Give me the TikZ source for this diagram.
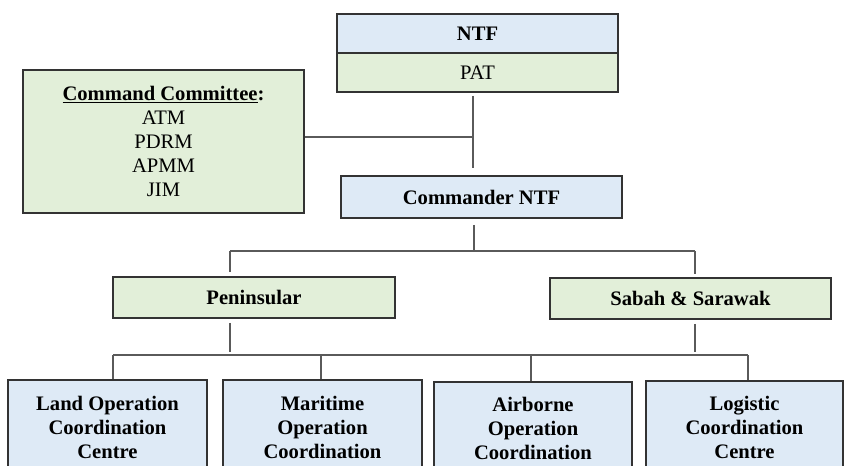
\documentclass[tikz,border=0pt]{standalone}
\usepackage{fontspec}
\setmainfont{LiberationSerif}[Extension=.ttf, UprightFont=*-Regular, BoldFont=*-Bold, ItalicFont=*-Italic, BoldItalicFont=*-BoldItalic]
\usetikzlibrary{calc}
\definecolor{boxblue}{HTML}{DEEAF6}
\definecolor{boxgreen}{HTML}{E2EFD9}
\definecolor{boxedge}{HTML}{333333}
\definecolor{linegrey}{HTML}{5A5A5A}
\tikzset{
  orgbox/.style={draw=boxedge, line width=1.6pt, inner sep=0pt, align=center,
    font=\fontsize{20.6}{24}\selectfont},
  bluebox/.style={orgbox, fill=boxblue},
  greenbox/.style={orgbox, fill=boxgreen},
  conn/.style={draw=linegrey, line width=1.1pt},
}
\begin{document}
\begin{tikzpicture}[x=1pt,y=-1pt]
\clip (0,0) rectangle (844,466);
\fill[white] (0,0) rectangle (844,466);

% top boxes
\node[bluebox, minimum width=281pt, minimum height=39pt] (ntf) at (477.5,33.5) {\textbf{NTF}};
\node[greenbox, minimum width=281pt, minimum height=39pt] (pat) at (477.5,72.5) {PAT};
\node[greenbox, minimum width=281pt, minimum height=143pt] (cc) at (163.5,141.5)
  {\textbf{\underline{Command Committee}:}\\ATM\\PDRM\\APMM\\JIM};
\node[bluebox, minimum width=281pt, minimum height=42pt] (cmdr) at (481.5,197) {\textbf{Commander NTF}};

% middle boxes
\node[greenbox, minimum width=282pt, minimum height=41pt] (pen) at (254,297.5) {\textbf{Peninsular}};
\node[greenbox, minimum width=281pt, minimum height=41pt] (sab) at (690.5,298.5) {\textbf{Sabah \& Sarawak}};

% bottom boxes
\node[bluebox, minimum width=199pt, minimum height=94pt] (land) at (107.5,427)
  {\textbf{Land Operation}\\\textbf{Coordination}\\\textbf{Centre}};
\node[bluebox, minimum width=199pt, minimum height=94pt] (mar) at (322.5,427)
  {\textbf{Maritime}\\\textbf{Operation}\\\textbf{Coordination}};
\node[bluebox, minimum width=198pt, minimum height=92pt] (air) at (533,428)
  {\textbf{Airborne}\\\textbf{Operation}\\\textbf{Coordination}};
\node[bluebox, minimum width=197pt, minimum height=93pt] (log) at (744.5,427.5)
  {\textbf{Logistic}\\\textbf{Coordination}\\\textbf{Centre}};

% junction coordinates
\coordinate (j1) at (473,137);
\coordinate (b1) at (474,251);
\coordinate (b1L) at (230,251);
\coordinate (b1R) at (695,251);
\coordinate (b2L) at (113,355);
\coordinate (b2M) at (321,355);
\coordinate (b2A) at (531,355);
\coordinate (b2R) at (748,355);
\coordinate (p2) at (230,355);
\coordinate (s2) at (695,355);

% connectors
\draw[conn, shorten <=3pt, shorten >=7pt] (pat.south -| j1) -- (cmdr.north -| j1);
\draw[conn] (cc.east |- j1) -- (j1);
\draw[conn, shorten <=6pt] (cmdr.south -| b1) -- (b1);
\draw[conn] (b1L) -- (b1R);
\draw[conn, shorten >=4pt] (b1L) -- (pen.north -| b1L);
\draw[conn, shorten >=3pt] (b1R) -- (sab.north -| b1R);
\draw[conn, shorten <=4pt, shorten >=3pt] (pen.south -| p2) -- (p2);
\draw[conn, shorten <=4pt, shorten >=3pt] (sab.south -| s2) -- (s2);
\draw[conn] (b2L) -- (b2R);
\draw[conn] (b2L) -- (land.north -| b2L);
\draw[conn] (b2M) -- (mar.north -| b2M);
\draw[conn] (b2A) -- (air.north -| b2A);
\draw[conn] (b2R) -- (log.north -| b2R);
\end{tikzpicture}
\end{document}
